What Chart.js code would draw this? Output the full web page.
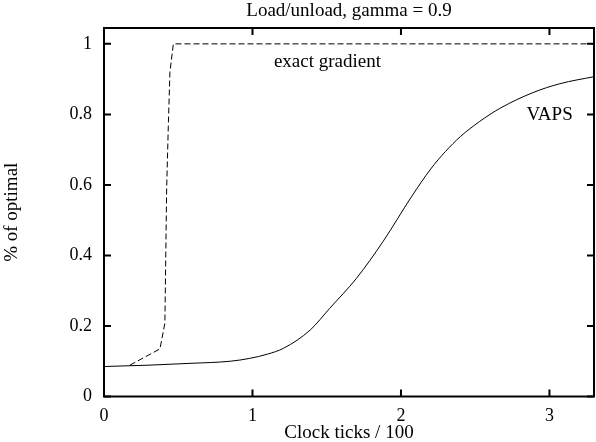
<!DOCTYPE html>
<html>
<head>
<meta charset="utf-8">
<script src="https://cdn.jsdelivr.net/npm/chart.js@4/dist/chart.umd.min.js"></script>
<style>
html,body{margin:0;padding:0;background:#fff;}
#wrap{width:596px;height:442px;position:relative;}
</style>
</head>
<body>
<div id="wrap"><canvas id="c" width="596" height="442"></canvas></div>
<script>
// ---- data ----
const chartTitle = "Load/unload, gamma = 0.9";
const xAxisTitle = "Clock ticks / 100";
const yAxisTitle = "% of optimal";
const xTicks = [0, 1, 2, 3];
const yTicks = [0, 0.2, 0.4, 0.6, 0.8, 1];
const xRange = [0, 3.3];
const yRange = [0, 1.045];

const vapsX = [0, 0.31, 0.58, 0.85, 0.98, 1.1, 1.21, 1.39, 1.52, 1.7, 1.88, 2.07, 2.2, 2.3, 2.4, 2.53, 2.67, 2.89, 3.07, 3.3];
const vapsY = [0.085, 0.089, 0.094, 0.100, 0.108, 0.120, 0.137, 0.189, 0.250, 0.335, 0.440, 0.566, 0.645, 0.695, 0.737, 0.780, 0.818, 0.862, 0.887, 0.907];

const exactX = [0.175, 0.377, 0.41, 0.422, 0.433, 0.444, 0.467, 3.3];
const exactY = [0.089, 0.135, 0.208, 0.59, 0.765, 0.92, 1.0, 1.0];

const seriesLabels = ["exact gradient", "VAPS"];
const labelPos = [[1.505, 0.935, 'center'], [2.846, 0.784, 'left']];

const FONT = "Liberation Serif";
const FS = 19;
const TFS = 18;

const toPts = (xs, ys) => xs.map((x, i) => ({x: x, y: ys[i]}));

const framePlugin = {
  id: 'frame',
  afterDraw(chart) {
    const ctx = chart.ctx, a = chart.chartArea;
    const xs = chart.scales.x, ys = chart.scales.y;
    ctx.save();
    ctx.strokeStyle = '#000';
    ctx.lineWidth = 2;
    ctx.strokeRect(a.left, a.top, a.right - a.left, a.bottom - a.top);
    const tl = 7;
    ctx.beginPath();
    xTicks.forEach(v => {
      const p = xs.getPixelForValue(v);
      ctx.moveTo(p, a.bottom); ctx.lineTo(p, a.bottom - tl);
      ctx.moveTo(p, a.top); ctx.lineTo(p, a.top + tl);
    });
    yTicks.forEach(v => {
      const p = ys.getPixelForValue(v);
      ctx.moveTo(a.left, p); ctx.lineTo(a.left + tl, p);
      ctx.moveTo(a.right, p); ctx.lineTo(a.right - tl, p);
    });
    ctx.stroke();
    // title and series labels
    ctx.fillStyle = '#000';
    ctx.font = FS + 'px "' + FONT + '"';
    ctx.textAlign = 'center';
    ctx.textBaseline = 'alphabetic';
    ctx.fillText(chartTitle, (a.left + a.right) / 2, 16);
    seriesLabels.forEach((t, i) => {
      const [lx, ly, al] = labelPos[i];
      ctx.textAlign = al;
      ctx.fillText(t, xs.getPixelForValue(lx), ys.getPixelForValue(ly));
    });
    ctx.restore();
  }
};

new Chart(document.getElementById('c'), {
  type: 'scatter',
  data: {
    datasets: [
      {label: seriesLabels[0], data: toPts(exactX, exactY), showLine: true, borderColor: '#000', borderWidth: 1, borderDash: [6, 3], pointRadius: 0, tension: 0, fill: false},
      {label: seriesLabels[1], data: toPts(vapsX, vapsY), showLine: true, borderColor: '#000', borderWidth: 1, pointRadius: 0, cubicInterpolationMode: 'monotone', fill: false}
    ]
  },
  options: {
    responsive: false,
    animation: false,
    devicePixelRatio: 1,
    layout: {padding: {top: 28, right: 2, left: 0, bottom: 0}},
    plugins: {legend: {display: false}, tooltip: {enabled: false}, title: {display: false}},
    scales: {
      x: {
        type: 'linear', min: xRange[0], max: xRange[1],
        afterFit: s => { s.height = 45.5; },
        afterBuildTicks: s => { s.ticks = xTicks.map(v => ({value: v})); },
        grid: {display: false, drawTicks: false},
        border: {display: false},
        ticks: {color: '#000', font: {family: FONT, size: TFS}, padding: 9, maxRotation: 0, callback: v => String(v)},
        title: {display: true, text: xAxisTitle, color: '#000', font: {family: FONT, size: FS}, padding: {top: 0, bottom: -2}}
      },
      y: {
        type: 'linear', min: yRange[0], max: yRange[1],
        afterFit: s => { s.width = 104; },
        afterBuildTicks: s => { s.ticks = yTicks.map(v => ({value: v})); },
        grid: {display: false, drawTicks: false},
        border: {display: false},
        ticks: {color: '#000', font: {family: FONT, size: TFS}, padding: 12, callback: v => String(v)},
        title: {display: true, text: yAxisTitle, color: '#000', font: {family: FONT, size: FS}, padding: {top: 1, bottom: 0}}
      }
    }
  },
  plugins: [framePlugin]
});
</script>
</body>
</html>
